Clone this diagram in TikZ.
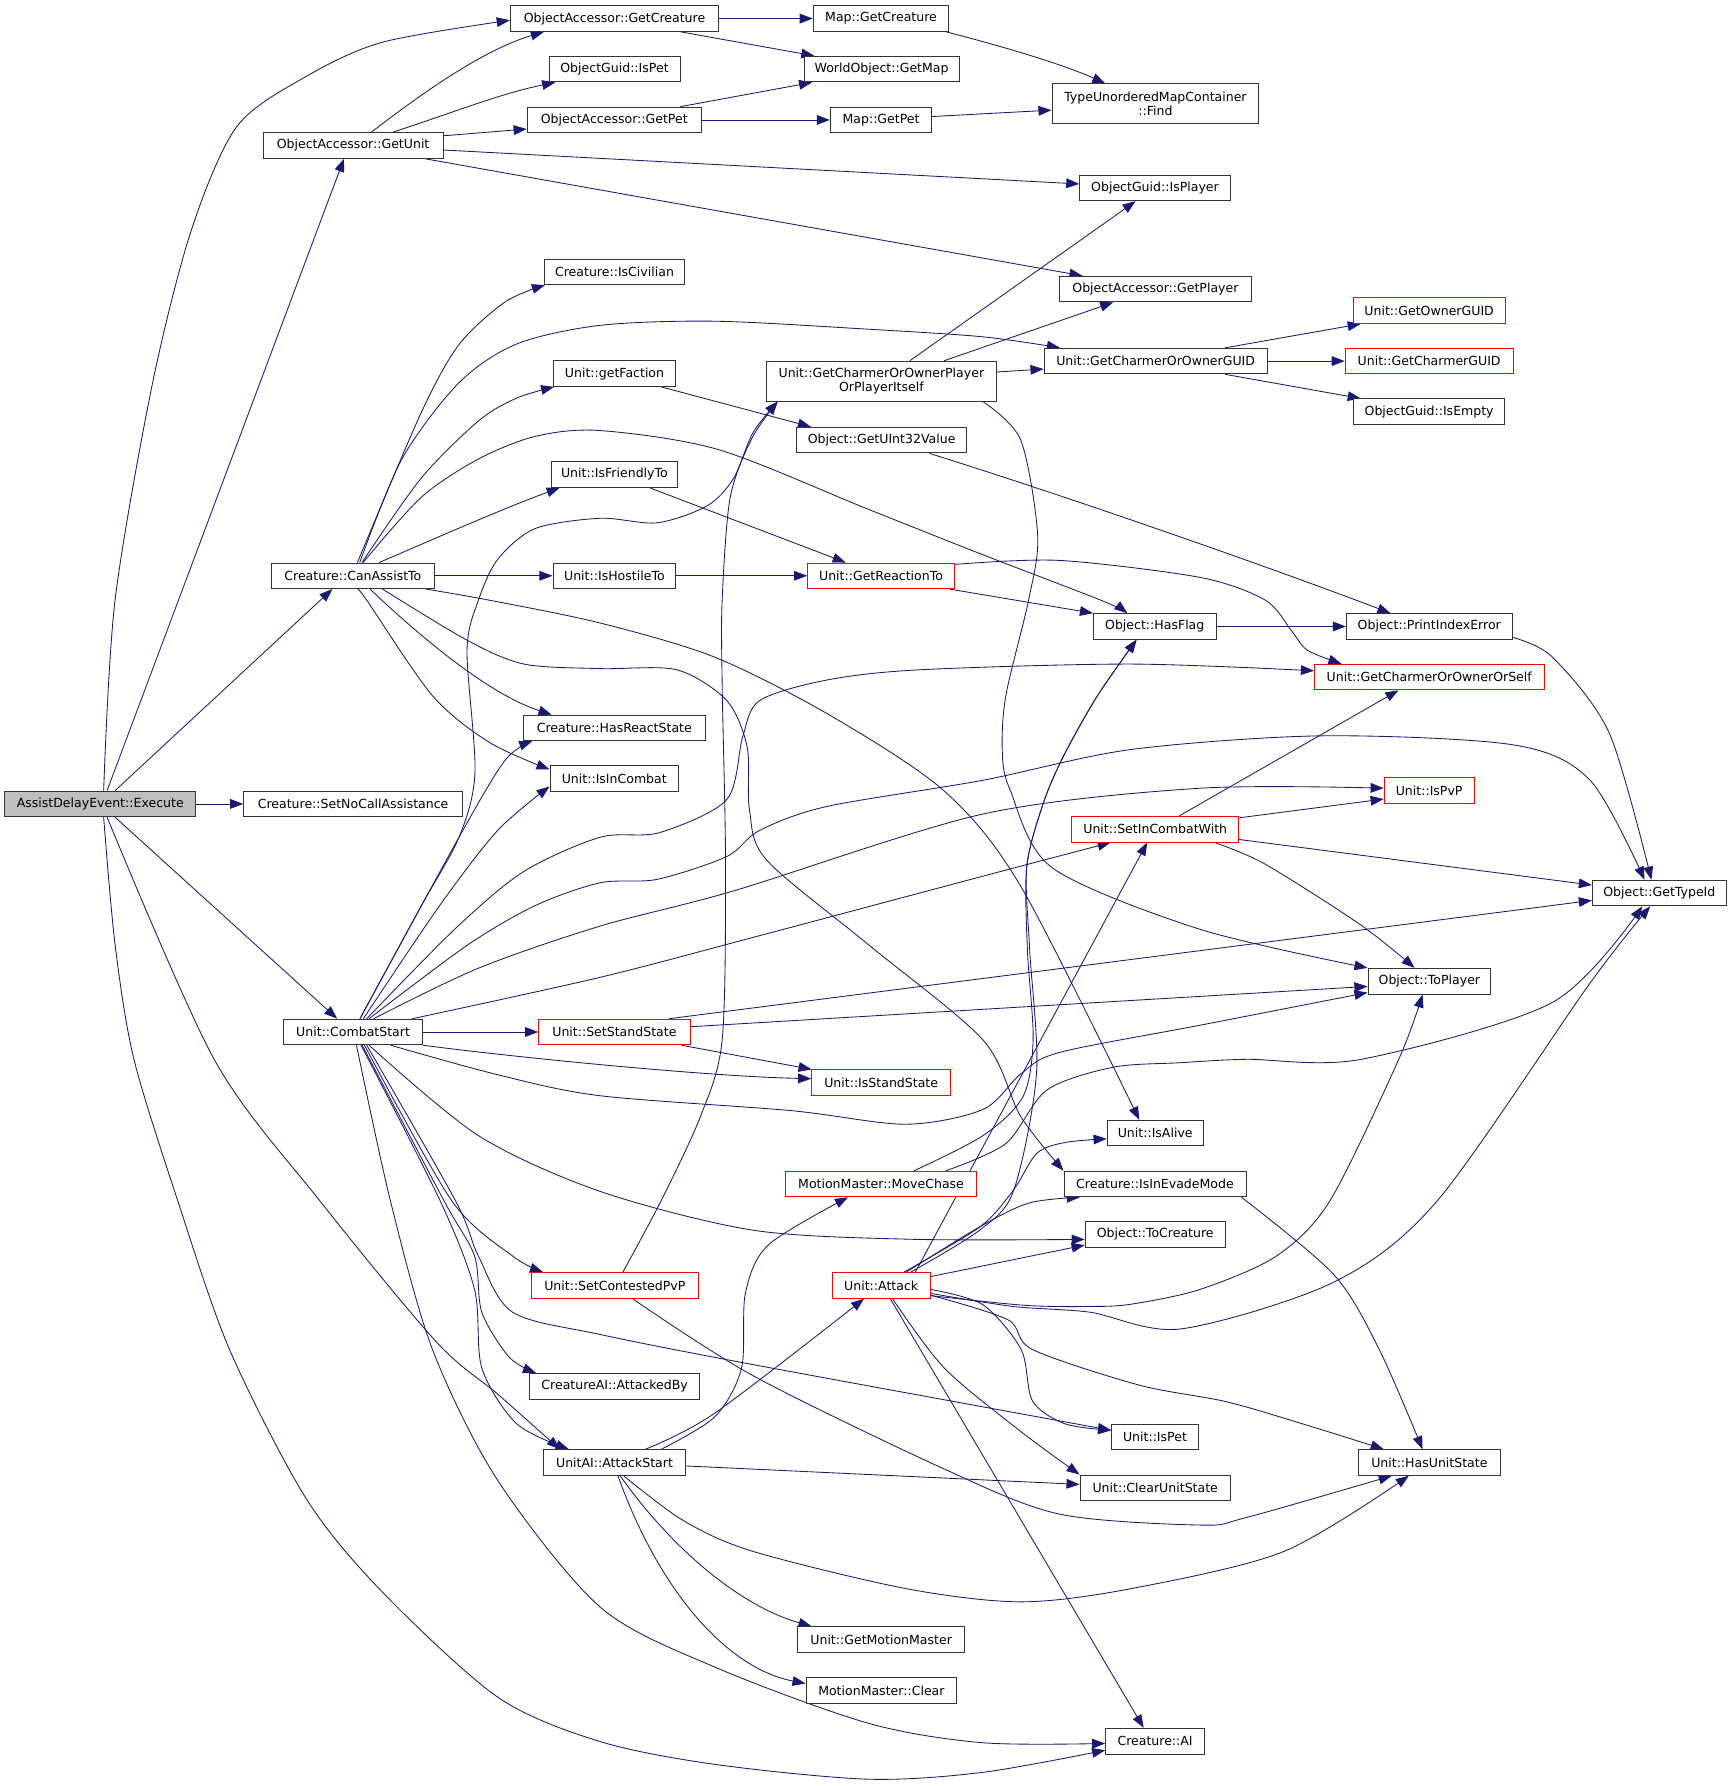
\documentclass[tikz,border=0pt]{standalone}
\usepackage{fontspec}
\usetikzlibrary{arrows.meta}
\newfontfamily\dvs{DejaVu Sans}
\definecolor{navy}{HTML}{191970}
\definecolor{rootgray}{HTML}{BFBFBF}
\pgfdeclarelayer{bg}
\pgfsetlayers{bg,main}
\tikzset{
  fn/.style={draw=black!80, line width=0.8pt, fill=white, inner sep=0pt, minimum height=22.5pt, font=\dvs\fontsize{11}{13}\selectfont, text=black, align=center},
  redbox/.style={fn, draw=red},
  rootbox/.style={fn, fill=rootgray},
  twoline/.style={minimum height=35pt},
  cx/.style={draw=navy, line width=0.75pt, -{Triangle[length=11.5pt,width=8.5pt]}},
}
\begin{document}
\begin{tikzpicture}[x=1pt,y=-1pt]
\useasboundingbox (0,0) rectangle (1520,1568);
% nodes
\node[rootbox, minimum width=168] (E) at (88,705.8) {AssistDelayEvent::Execute};
\node[fn, minimum width=192] (SNCA) at (310,705.8) {Creature::SetNoCallAssistance};
\node[fn, minimum width=183] (OAGC) at (539.5,16.3) {ObjectAccessor::GetCreature};
\node[fn, minimum width=119] (MGC) at (773.5,16.3) {Map::GetCreature};
\node[fn, minimum width=115] (OGIP) at (539.5,60.7) {ObjectGuid::IsPet};
\node[fn, minimum width=136] (WOGM) at (774,60.7) {WorldObject::GetMap};
\node[fn, minimum width=153] (OAGP) at (539.3,105.3) {ObjectAccessor::GetPet};
\node[fn, minimum width=89] (MGP) at (773.5,105.3) {Map::GetPet};
\node[fn, twoline, minimum width=181.6] (TUMF) at (1014.4,91.2) {TypeUnorderedMapContainer\\::Find};
\node[fn, minimum width=158] (OAGU) at (310,127.7) {ObjectAccessor::GetUnit};
\node[fn, minimum width=132] (OGPL) at (1014,165) {ObjectGuid::IsPlayer};
\node[fn, minimum width=123] (CIC) at (539.5,238.6) {Creature::IsCivilian};
\node[fn, minimum width=167.7] (OAPL) at (1014.4,253.8) {ObjectAccessor::GetPlayer};
\node[redbox, minimum width=133.5] (GOG) at (1254.7,272.7) {Unit::GetOwnerGUID};
\node[fn, minimum width=196] (GCOG) at (1014.6,317) {Unit::GetCharmerOrOwnerGUID};
\node[redbox, minimum width=147.5] (GCG) at (1254.7,317) {Unit::GetCharmerGUID};
\node[fn, twoline, minimum width=201.5] (GCOP) at (773.8,334.6) {Unit::GetCharmerOrOwnerPlayer\\OrPlayerItself};
\node[fn, minimum width=107.5] (GF) at (539.5,328) {Unit::getFaction};
\node[fn, minimum width=132.5] (OGIE) at (1254.7,361.5) {ObjectGuid::IsEmpty};
\node[fn, minimum width=149.7] (GU32) at (774,386.4) {Object::GetUInt32Value};
\node[fn, minimum width=111] (IFT) at (539.4,416.6) {Unit::IsFriendlyTo};
\node[fn, minimum width=143.7] (CA) at (309.8,505.5) {Creature::CanAssistTo};
\node[fn, minimum width=107.8] (IHT) at (539.4,505.5) {Unit::IsHostileTo};
\node[redbox, minimum width=129] (GRT) at (773.5,505.5) {Unit::GetReactionTo};
\node[fn, minimum width=107.6] (HF) at (1013.8,550) {Object::HasFlag};
\node[fn, minimum width=145.6] (PIE) at (1254.8,550) {Object::PrintIndexError};
\node[redbox, minimum width=201.6] (GCOS) at (1254.8,594.4) {Unit::GetCharmerOrOwnerOrSelf};
\node[fn, minimum width=159.4] (HRS) at (539.3,639) {Creature::HasReactState};
\node[fn, minimum width=112.8] (IIC) at (539.3,683.5) {Unit::IsInCombat};
\node[redbox, minimum width=79] (IPVP) at (1254.7,694) {Unit::IsPvP};
\node[redbox, minimum width=146.4] (SICW) at (1014.2,728) {Unit::SetInCombatWith};
\node[fn, minimum width=117.6] (GTI) at (1456.8,784) {Object::GetTypeId};
\node[fn, minimum width=107.8] (TP) at (1254.9,861.4) {Object::ToPlayer};
\node[fn, minimum width=122] (CS) at (310,906) {Unit::CombatStart};
\node[redbox, minimum width=132.8] (SSS) at (539.4,906) {Unit::SetStandState};
\node[redbox, minimum width=122] (ISS) at (773.6,950.5) {Unit::IsStandState};
\node[fn, minimum width=84.4] (IA) at (1014.2,994.8) {Unit::IsAlive};
\node[redbox, minimum width=167.7] (MC) at (773.5,1039.5) {MotionMaster::MoveChase};
\node[fn, minimum width=159.8] (IEM) at (1014,1039.5) {Creature::IsInEvadeMode};
\node[fn, minimum width=123] (TC) at (1014.2,1083.6) {Object::ToCreature};
\node[redbox, minimum width=146.8] (SCP) at (539.8,1128.5) {Unit::SetContestedPvP};
\node[redbox, minimum width=85.7] (AT) at (773.6,1128.5) {Unit::Attack};
\node[fn, minimum width=149.8] (AAB) at (539.6,1217) {CreatureAI::AttackedBy};
\node[fn, minimum width=76] (IPET) at (1014,1261.7) {Unit::IsPet};
\node[fn, minimum width=124.3] (AS) at (539.5,1284) {UnitAI::AttackStart};
\node[fn, minimum width=125.3] (HUS) at (1254.9,1284) {Unit::HasUnitState};
\node[fn, minimum width=132] (CUS) at (1014.2,1306.2) {Unit::ClearUnitState};
\node[fn, minimum width=146.8] (GMM) at (773.6,1439.5) {Unit::GetMotionMaster};
\node[fn, minimum width=132.3] (MMC) at (773.8,1484) {MotionMaster::Clear};
\node[fn, minimum width=86.8] (CAI) at (1014.1,1528.6) {Creature::AI};

\begin{pgfonlayer}{bg}
% Execute
\draw[cx] plot[smooth] coordinates {([xshift=3]E.north) (101,527) (134,336) (168,202) (208,111) (269,67) (336,37) ([yshift=-1.5]OAGC.west)};
\draw[cx] ([xshift=6]E.north) -- ([xshift=-8]OAGU.south);
\draw[cx] ([xshift=13]E.north) -- ([xshift=-18]CA.south);
\draw[cx] (E) -- (SNCA);
\draw[cx] ([xshift=13]E.south) -- ([xshift=-14]CS.north);
\draw[cx] plot[smooth] coordinates {([xshift=6]E.south) (188,930) (280.6,1054) (383,1178) (437,1224) ([xshift=-48]AS.north)};
\draw[cx] plot[smooth] coordinates {([xshift=3]E.south) (101,829) (117.6,930) (156,1054) (201.6,1185) (269,1316) (336,1398) (437,1490) (527,1529) (627.6,1549) (762,1562) (862.8,1556) ([yshift=-8]CAI.west)};
% top cluster
\draw[cx] (OAGC) -- (MGC);
\draw[cx] ([xshift=58]OAGC.south) -- ([xshift=-59]WOGM.north);
\draw[cx] ([xshift=57]MGC.south) .. controls (870,38) and (930,55) .. ([xshift=-44]TUMF.north);
\draw[cx] ([xshift=58]OAGP.north) -- ([xshift=-61]WOGM.south);
\draw[cx] (OAGP) -- (MGP);
\draw[cx] ([yshift=3]MGP.east) -- ([yshift=-5.5]TUMF.west);
\draw[cx] ([xshift=16]OAGU.north) .. controls (360,90) and (420,45) .. ([xshift=-62]OAGC.south);
\draw[cx] ([xshift=35]OAGU.north) .. controls (400,98) and (440,82) .. ([xshift=-52]OGIP.south);
\draw[cx] ([yshift=8.5]OAGU.east) -- ([yshift=-8]OAGP.west);
\draw[cx] ([yshift=-4]OAGU.east) -- ([yshift=3.5]OGPL.west);
\draw[cx] ([xshift=63]OAGU.south) -- ([xshift=-64]OAPL.north);
% CanAssistTo
\draw[cx] plot[smooth] coordinates {([xshift=4]CA.north) (369.6,362.7) (403,302.5) (443.6,265) ([xshift=-61]CIC.south)};
\draw[cx] plot[smooth] coordinates {([xshift=6]CA.north) (352.8,403) (403,336) (453.6,302) (527,285.6) (627.6,282) (762,289) (862.8,295.7) ([xshift=-84]GCOG.north)};
\draw[cx] plot[smooth] coordinates {([xshift=8]CA.north) (369.6,420) (420,369.6) (453.6,349.5) ([xshift=-53]GF.south)};
\draw[cx] plot[smooth] coordinates {([xshift=9]CA.north) (369.6,436.8) (420,403) (470.4,383) (527,378) (631,394.8) (762,447) (862.8,487) (966.7,527) ([xshift=-24]HF.north)};
\draw[cx] ([xshift=23]CA.north) .. controls (370,478) and (440,447) .. ([xshift=-48]IFT.south);
\draw[cx] (CA) -- (IHT);
\draw[cx] plot[smooth] coordinates {([xshift=64]CA.south) (430,527) (527,547) (627.6,577) (728,627.6) (829,694.5) (896.5,778.7) ([xshift=-14]IA.north)};
\draw[cx] ([xshift=15]CA.south) .. controls (370,560) and (430,610) .. ([xshift=-55]HRS.north);
\draw[cx] plot[smooth] coordinates {([xshift=4]CA.south) (322,527) (379.7,610.8) (430,652) ([yshift=8]IIC.west)};
\draw[cx] plot[smooth] coordinates {([xshift=26]CA.south) (410,562) (460,583) (527,587) (594,588) (638,615) (656,656) (658,711) (673,755) (762,829) (863,913) (896,980) (IEM.north west)};
% middle
\draw[cx] ([xshift=41]GF.south) -- ([xshift=-62]GU32.north);
\draw[cx] ([xshift=31]IFT.south) -- ([xshift=-31]GRT.north);
\draw[cx] (IHT) -- (GRT);
\draw[cx] ([xshift=60]GRT.south) -- (HF.north west);
\draw[cx] plot[smooth] coordinates {([yshift=10]GRT.east) (930,492) (1054,507) (1111,527) (1134,554) (1148,571) ([xshift=-77]GCOS.north)};
\draw[cx] ([xshift=42]GU32.south) .. controls (950,440) and (1120,500) .. ([xshift=-34]PIE.north);
\draw[cx] (HF) -- (PIE);
\draw[cx] plot[smooth] coordinates {([yshift=2]PIE.south east) (1363,577) (1413,644) ([xshift=-7]GTI.north)};
\draw[cx] ([xshift=61]GCOG.north) -- ([xshift=-60]GOG.south);
\draw[cx] (GCOG) -- (GCG);
\draw[cx] ([xshift=61]GCOG.south) -- ([xshift=-60]OGIE.north);
\draw[cx] ([xshift=25]GCOP.north) -- ([xshift=-17]OGPL.south);
\draw[cx] ([xshift=55]GCOP.north) -- ([xshift=-37]OAPL.south);
\draw[cx] ([yshift=8]GCOP.east) -- ([yshift=-7]GCOG.west);
\draw[cx] plot[smooth] coordinates {([xshift=89]GCOP.south) (896,386) (911,470) (903,527) (883,611) (880,661) (887,694) (924,762) (1054,816) (TP.north west)};
\draw[cx] plot[smooth] coordinates {([xshift=76]IEM.south) (1171,1119) (1211,1185) ([xshift=-6]HUS.north)};
\draw[cx] ([xshift=21]SICW.north) -- ([xshift=-27]GCOS.south);
\draw[cx] ([yshift=10]SICW.east) -- ([yshift=-7.5]IPVP.west);
\draw[cx] ([yshift=-9]SICW.east) -- ([yshift=7]GTI.west);
\draw[cx] plot[smooth] coordinates {([xshift=52]SICW.south) (1110.6,758.6) (1194.6,812) ([xshift=-13]TP.north)};
% CombatStart
\draw[cx] (CS) -- (SSS);
\draw[cx] (CS.south east) .. controls (450,928) and (620,945) .. ([yshift=3.5]ISS.west);
\draw[cx] plot[smooth] coordinates {([xshift=33]CS.south) (436.8,943.5) (527,962) (694,975) (795,987) (863,974) (896,943) (930,924) (1054,900) ([yshift=-10]TP.west)};
\draw[cx] plot[smooth] coordinates {([xshift=14]CS.south) (420,997) (527,1046) (661,1080) (800,1088) ([yshift=-4.5]TC.west)};
\draw[cx] plot[smooth] coordinates {([xshift=6]CS.north) (370,795) (403,735) (417,678) (410,571) (420,527) (437,491) (470,464) (527,455) (577,459) (621,444) (644,420) (661,380) ([xshift=-91]GCOP.south)};
\draw[cx] plot[smooth] coordinates {([xshift=6]CS.north) (403,735) (443,668) ([xshift=-72]HRS.south)};
\draw[cx] plot[smooth] coordinates {([xshift=9]CS.north) (386,795) (437,729) ([yshift=-7]IIC.west)};
\draw[cx] plot[smooth] coordinates {([xshift=12]CS.north) (400,815) (460,765) (527,735) (579,731) (638,702) (652,647) (667,615) (726,597) (808,588) (993,583) ([yshift=5.5]GCOS.west)};
\draw[cx] plot[smooth] coordinates {([xshift=14]CS.north) (410,830) (470,795) (527,775) (577,772) (638,752) (667,729) (726,708) (863,685) (993,658) (1161,646) (1329,654) (1396,685) ([xshift=-13]GTI.north)};
\draw[cx] plot[smooth] coordinates {([xshift=18]CS.north) (420,850) (527,813) (644.6,782) (862.8,714.7) (1053.6,692) ([yshift=2]IPVP.west)};
\draw[cx] plot[smooth] coordinates {([xshift=52]CS.north) (527,858) (661,823) (860,770) ([xshift=-39]SICW.south)};
\draw[cx] plot[smooth] coordinates {([xshift=12]CS.south) (399.8,1054) (420,1102.7) (450,1152) (527,1171.6) (661,1198) ([yshift=6]IPET.west)};
\draw[cx] plot[smooth] coordinates {([xshift=10]CS.south) (396.5,1054) (450,1102.7) ([xshift=-63]SCP.north)};
\draw[cx] plot[smooth] coordinates {([xshift=8]CS.south) (389.7,1054) (416.6,1102.7) (423,1152) (447,1191.5) ([xshift=-69]AAB.north)};
\draw[cx] plot[smooth] coordinates {([xshift=7]CS.south) (386.3,1054) (416.6,1132) (423,1201) (453.6,1250) ([xshift=-40]AS.north)};
\draw[cx] plot[smooth] coordinates {([xshift=3]CS.south) (342.7,1054) (379.7,1184.8) (436.8,1299.4) (527,1411) (627.6,1463.6) (762,1512.8) (862.8,1530) ([yshift=-2]CAI.west)};
% SetStandState
\draw[cx] ([xshift=59]SSS.south) -- ([xshift=-61]ISS.north);
\draw[cx] ([yshift=4.6]SSS.east) -- ([yshift=-4.6]TP.west);
\draw[cx] ([xshift=48]SSS.north) -- ([yshift=-6.5]GTI.west);
% Attack
\draw[cx] ([xshift=30]AT.north) -- ([xshift=-7]SICW.south);
\draw[cx] plot[smooth] coordinates {([xshift=26]AT.north) (860,1080) (890,1045) (910,942) (904,834) (901.4,761) (916,705) (933.6,664) (962.9,611.7) ([xshift=-16]HF.south)};
\draw[cx] plot[smooth] coordinates {([yshift=-7]AT.east) (889.5,1147) (956.7,1152) (1036.7,1166.7) (1171,1125.6) (1262,1054) (1396,863) ([xshift=-8]GTI.south)};
\draw[cx] plot[smooth] coordinates {([yshift=-9]AT.east) (900,1146) (956.7,1147) (993,1145) (1053.6,1132) (1120.6,1102.7) (1167.7,1054) (1228,930) ([xshift=-6]TP.south)};
\draw[cx] plot[smooth] coordinates {([yshift=-3.5]AT.east) (862.8,1145.4) (896.5,1184.8) (906.5,1230) (935,1250) ([yshift=6]IPET.west)};
\draw[cx] plot[smooth] coordinates {([yshift=-8.5]AT.east) (884.8,1158.6) (906.5,1184.8) (1000,1216) (1077,1230.7) (1150,1252) ([xshift=-40]HUS.north)};
\draw[cx] plot[smooth] coordinates {([xshift=10]AT.south) (829,1201) (896.5,1257) (CUS.north west)};
\draw[cx] ([xshift=8]AT.south) -- ([xshift=-10]CAI.north);
\draw[cx] ([yshift=7.7]AT.east) -- ([yshift=-9.5]TC.west);
\draw[cx] plot[smooth] coordinates {([xshift=22]AT.north) (862,1076) (904,1056) ([xshift=-66]IEM.south)};
\draw[cx] plot[smooth] coordinates {([xshift=20]AT.north) (860.4,1077) (889.7,1044.8) (910.2,1012.6) (935,1003) ([yshift=-5]IA.west)};
% MoveChase
\draw[cx] plot[smooth] coordinates {([xshift=29]MC.north) (863,997) (898,963) (907,913) (902,834) (901.4,761) (916,705) (933.6,664) (962.9,611.7) ([xshift=-16]HF.south)};
\draw[cx] plot[smooth] coordinates {([xshift=57]MC.north) (883,1004) (919,957) (977,937) (1036,933) (1094,930) (1195,930) (1363,880) ([xshift=-15]GTI.south)};
% AttackStart
\draw[cx] plot[smooth] coordinates {([xshift=41]AS.north) (627.6,1243.8) (651,1201.2) (654.4,1135.5) (674.6,1092.9) ([xshift=-29]MC.south)};
\draw[cx] plot[smooth] coordinates {([xshift=27]AS.north) (627.6,1240.6) ([xshift=-15]AT.south)};
\draw[cx] ([yshift=-3]AS.east) -- ([yshift=3]CUS.west);
\draw[cx] plot[smooth] coordinates {([xshift=8]AS.south) (600,1335) (661,1362) (795.4,1394.7) (896.5,1406.3) (993,1394.7) (1127.3,1362) ([xshift=-18]HUS.south)};
\draw[cx] ([xshift=5]AS.south) .. controls (590,1360) and (650,1410) .. ([xshift=-61]GMM.north);
\draw[cx] ([xshift=3]AS.south) .. controls (580,1400) and (640,1465) .. ([yshift=6]MMC.west);
% SetContestedPvP
\draw[cx] plot[smooth] coordinates {([xshift=7]SCP.north) (580.5,1054) (615,980) (634,913) (637,762) (634,600) (634,527) (641,437) (660,385) ([xshift=-91]GCOP.south)};
\draw[cx] plot[smooth] coordinates {([xshift=15.5]SCP.south) (661,1207.7) (829,1289.7) (929.8,1329.2) (1053.6,1338.9) (1093.8,1332.4) ([xshift=-33]HUS.south)};
\end{pgfonlayer}
\end{tikzpicture}
\end{document}
